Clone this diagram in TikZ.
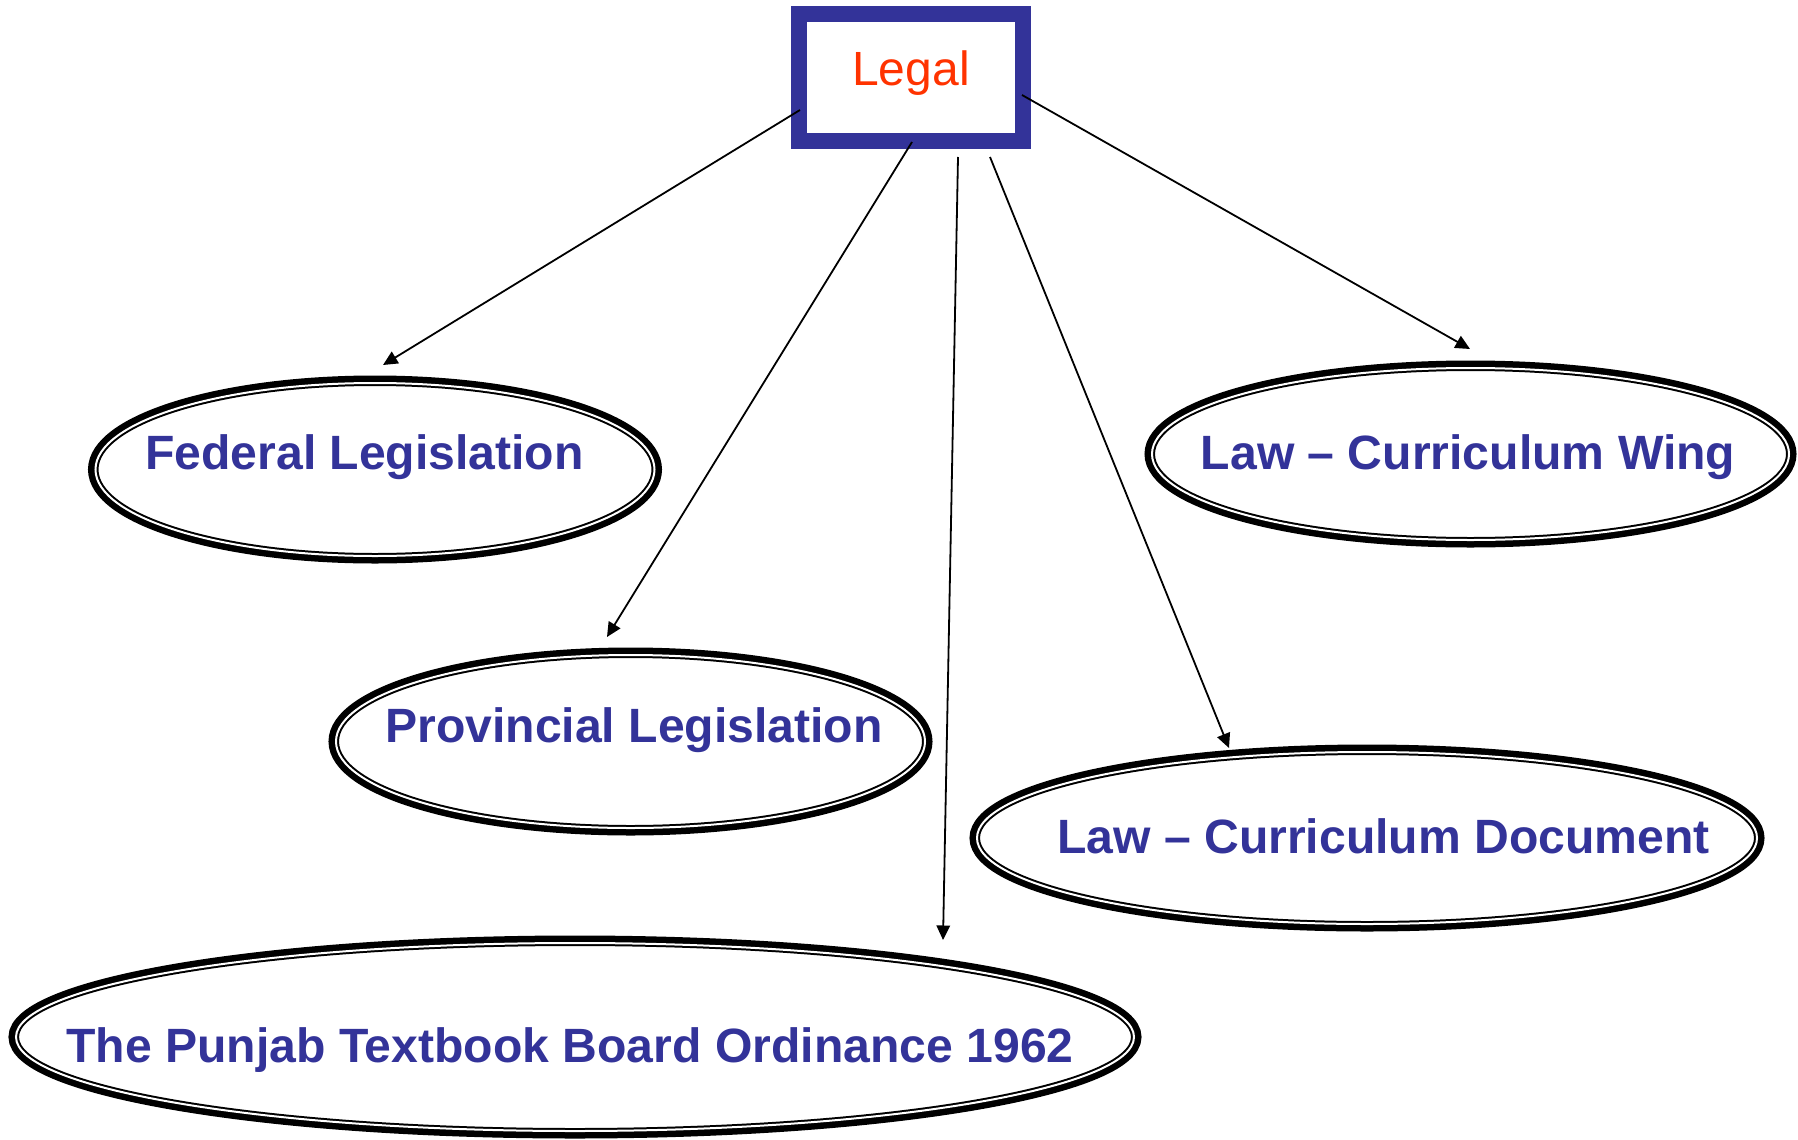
\documentclass[tikz,border=0pt]{standalone}
\usepackage{fontspec}
\setmainfont{Liberation Sans}
\usetikzlibrary{shapes.geometric,arrows.meta}
\definecolor{navy}{HTML}{333399}
\definecolor{legalred}{HTML}{FF3300}
\newcommand\pxl{0.4pt}
\newcommand\leaftext[2][0pt]{\makebox[0pt]{\hspace*{#1}#2}}
\tikzset{
  topbox/.style={draw=navy,line width=6.4pt,fill=white,inner sep=0pt,outer sep=0pt,text=legalred,font=\fontsize{19.2}{23}\selectfont,text height=12pt,text depth=5.2pt},
  leaf/.style={ellipse,draw=black,fill=white,line width=0.8pt,double=white,double distance=0.8pt,preaction={draw=black,line width=6pt},inner sep=0pt,outer sep=0pt,text=navy,font=\bfseries\fontsize{19.25}{23}\selectfont,text height=22pt},
  link/.style={-{Triangle[length=5.8pt,width=5.4pt]},line width=0.72pt}
}
\begin{document}
\begin{tikzpicture}[x=0.4pt,y=-0.4pt]
\useasboundingbox (0,0) rectangle (1798,1139);
\node[topbox,minimum width=224*\pxl,minimum height=127*\pxl] (legal) at (911,77.5) {Legal};
\node[leaf,minimum width=559*\pxl,minimum height=173*\pxl,text depth=22pt] (fedleg) at (375,469.5) {\leaftext[-8.4pt]{Federal Legislation}};
\node[leaf,minimum width=589*\pxl,minimum height=173*\pxl,text depth=21.6pt] (provleg) at (630.5,741.5) {\leaftext[2.8pt]{Provincial Legislation}};
\node[leaf,minimum width=637*\pxl,minimum height=172*\pxl,text depth=10pt] (lcwing) at (1470.5,454) {\leaftext[-2pt]{Law – Curriculum Wing}};
\node[leaf,minimum width=780*\pxl,minimum height=172*\pxl,text depth=10pt] (lcdoc) at (1367,838) {\leaftext[13.2pt]{Law – Curriculum Document}};
\node[leaf,minimum width=1118*\pxl,minimum height=188*\pxl,text depth=2pt] (ptbo) at (575,1037) {\leaftext[-4pt]{The Punjab Textbook Board Ordinance 1962}};
\draw[link] ([shift={(-111,32.5)}]legal.center) -- ([shift={(8,-104.5)}]fedleg.center);
\draw[link] ([shift={(1,64.5)}]legal.center) -- ([shift={(-23.5,-104.5)}]provleg.center);
\draw[link] ([shift={(47,79.5)}]legal.center) -- ([shift={(368,-97)}]ptbo.center);
\draw[link] ([shift={(79,79.5)}]legal.center) -- ([shift={(-138,-90)}]lcdoc.center);
\draw[link] ([shift={(111,17.5)}]legal.center) -- ([shift={(-0.5,-105)}]lcwing.center);
\end{tikzpicture}
\end{document}
